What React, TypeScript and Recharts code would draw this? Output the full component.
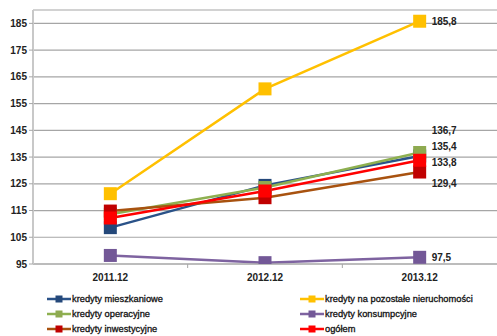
import React from 'react';
import { LineChart, Line, XAxis, YAxis, CartesianGrid, LabelList } from 'recharts';

const categories = ['2011.12', '2012.12', '2013.12'];
const yTicks = [95, 105, 115, 125, 135, 145, 155, 165, 175, 185];

const mieszkaniowe = [108.6, 124.4, 135.4];
const pozostale = [121.3, 160.5, 185.8];
const operacyjne = [113.6, 123.6, 136.7];
const konsumpcyjne = [98.2, 95.5, 97.5];
const inwestycyjne = [114.8, 119.8, 129.4];
const ogolem = [112.2, 122.3, 133.8];

const series = [
  { key: 'mieszkaniowe', name: 'kredyty mieszkaniowe', values: mieszkaniowe, line: '#2A5288', marker: '#24487A', dy: -10 },
  { key: 'pozostale', name: 'kredyty na pozostałe nieruchomości', values: pozostale, line: '#FFC000', marker: '#FFC000', dy: 0 },
  { key: 'operacyjne', name: 'kredyty operacyjne', values: operacyjne, line: '#8EB050', marker: '#8EAA50', dy: -23 },
  { key: 'konsumpcyjne', name: 'kredyty konsumpcyjne', values: konsumpcyjne, line: '#7E63A0', marker: '#735897', dy: 0 },
  { key: 'inwestycyjne', name: 'kredyty inwestycyjne', values: inwestycyjne, line: '#A8520F', marker: '#C00000', dy: 11 },
  { key: 'ogolem', name: 'ogółem', values: ogolem, line: '#FF0000', marker: '#FF0000', dy: 2 },
];

const data = categories.map((c, i) => {
  const row: any = { name: c };
  series.forEach((s) => (row[s.key] = s.values[i]));
  return row;
});

const W = 497;
const YW = 33;
const BAND = (W - YW) / categories.length;
const font = '"Liberation Sans", Arial, sans-serif';

const SquareDot = (color: string) => (props: any) => {
  const { cx, cy } = props;
  if (cx == null || cy == null) return null;
  return <rect x={cx - 6.5} y={cy - 6.5} width={13} height={13} fill={color} />;
};

const XTick = (props: any) => {
  const { x, y, payload, index } = props;
  return (
    <g>
      {index > 0 && <line x1={x - BAND / 2} x2={x - BAND / 2} y1={y - 8} y2={y - 4} stroke="#A6A6A6" />}
      <text x={x} y={y + 9} textAnchor="middle" fontFamily={font} fontSize={10} fontWeight="bold" fill="#222">
        {payload.value}
      </text>
    </g>
  );
};

const endLabel = (dy: number) => (props: any) => {
  const { x, y, value, index } = props;
  if (index !== categories.length - 1) return null;
  return (
    <text x={x + 12} y={y + dy + 4} fontFamily={font} fontSize={10} fontWeight="bold" fill="#222">
      {String(value).replace('.', ',')}
    </text>
  );
};

const LegendItem = ({ s }: { s: (typeof series)[number] }) => (
  <div style={{ display: 'flex', alignItems: 'center', height: 15, whiteSpace: 'nowrap' }}>
    <svg width={24} height={10} style={{ marginRight: 1 }}>
      <line x1={0} x2={24} y1={5} y2={5} stroke={s.line} strokeWidth={2.5} />
      <rect x={8.5} y={1.5} width={7} height={7} fill={s.marker} />
    </svg>
    <span style={{ fontFamily: font, fontSize: 9.3, color: '#111', WebkitTextStroke: '0.3px #111' }}>{s.name}</span>
  </div>
);

export default function App() {
  return (
    <div style={{ position: 'absolute', left: 0, top: 0, width: W, height: 336, background: '#fff' }}>
      <LineChart width={W} height={290} data={data} margin={{ top: 10, right: 0, left: 0, bottom: 6 }}>
        <CartesianGrid vertical={false} stroke="#A6A6A6" strokeWidth={1.2} />
        <XAxis
          dataKey="name"
          tick={<XTick />}
          tickLine={false}
          axisLine={{ stroke: '#A6A6A6', strokeWidth: 1.2 }}
          height={20}
          interval={0}
          padding={{ left: BAND / 2, right: BAND / 2 }}
        />
        <YAxis
          domain={[95, 190]}
          ticks={yTicks}
          width={YW}
          tickSize={4}
          tickLine={{ stroke: '#A6A6A6' }}
          axisLine={{ stroke: '#C8C8C8', strokeWidth: 2 }}
          tick={{ fontFamily: font, fontSize: 10, fontWeight: 'bold', fill: '#222' }}
          allowDataOverflow
        />
        {series.map((s) => (
          <Line
            key={s.key}
            dataKey={s.key}
            stroke={s.line}
            strokeWidth={2.5}
            dot={SquareDot(s.marker)}
            activeDot={false}
            isAnimationActive={false}
          >
            <LabelList dataKey={s.key} content={endLabel(s.dy)} />
          </Line>
        ))}
      </LineChart>
      <div style={{ position: 'absolute', left: 47, top: 291, display: 'flex' }}>
        <div style={{ width: 253 }}>
          {[series[0], series[2], series[4]].map((s) => (
            <LegendItem key={s.key} s={s} />
          ))}
        </div>
        <div>
          {[series[1], series[3], series[5]].map((s) => (
            <LegendItem key={s.key} s={s} />
          ))}
        </div>
      </div>
    </div>
  );
}
